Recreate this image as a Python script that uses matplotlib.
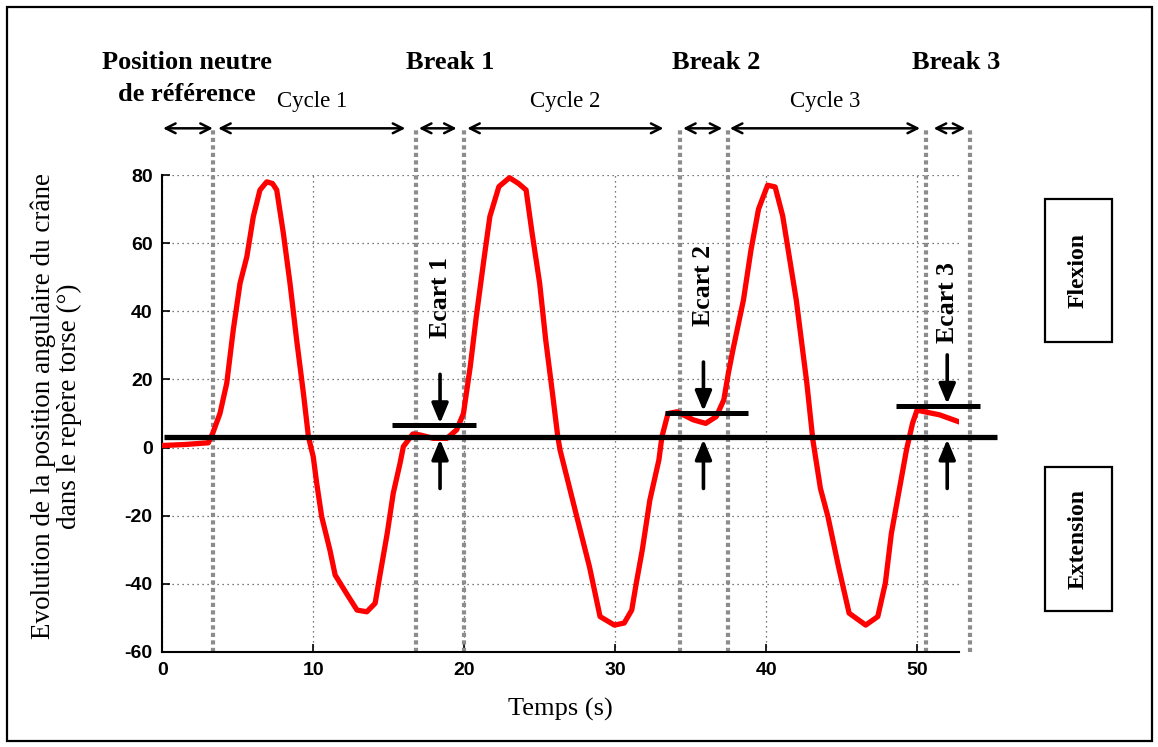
import numpy as np
import matplotlib.pyplot as plt
from matplotlib.patches import Rectangle

plt.rcParams['axes.unicode_minus'] = False

# Data
temps = [0, 1.5, 3.05, 3.34, 3.82, 4.27, 4.7, 5.15, 5.6, 6.03, 6.47, 6.92, 7.3, 7.58,
         8.02, 8.46, 8.9, 9.35, 9.68, 10.0, 10.23, 10.56, 11.1, 11.45, 12.2, 12.9,
         13.55, 14.1, 14.4, 14.9, 15.3, 15.75, 15.97, 16.6, 17.08, 17.96, 18.85, 19.5,
         19.95, 20.4, 20.8, 21.3, 21.7, 22.3, 23.0, 23.6, 24.1, 24.5, 25.0, 25.4, 25.85,
         26.2, 26.35, 27.46, 28.3, 29.0, 29.95, 30.6, 31.1, 31.4, 31.8, 32.3, 32.9, 33.1,
         33.5, 34.1, 35.2, 36.0, 36.7, 37.2, 37.5, 37.8, 38.5, 39.0, 39.5, 40.1, 40.6,
         41.1, 41.5, 42.0, 42.7, 43.1, 43.6, 44.1, 44.8, 45.5, 46.6, 47.4, 47.9, 48.3,
         48.9, 49.3, 49.7, 50.0, 50.5, 51.5, 52.75]
angle = [0.6, 0.9, 1.4, 4.2, 10, 18.9, 34.5, 48.2, 56, 67.8, 75.6, 78, 77.5, 75.6,
         62.9, 48.2, 31.6, 15.9, 3.2, -2.7, -10.5, -20.3, -30, -37.4, -42.8, -47.7,
         -48.2, -45.7, -37.9, -25.2, -13.4, -4.6, 0.3, 4.0, 3.7, 2.7, 2.7, 5.2,
         10, 23.7, 38.4, 55, 67.8, 76.6, 79.2, 77.5, 75.6, 62.9, 48.2, 31.6, 15.9,
         3.2, -0.7, -20.3, -35, -49.6, -52.1, -51.5, -47.7, -39.8, -30, -15.4, -3.6, 3.2,
         10, 10.5, 8.1, 7.1, 9.1, 14, 21.8, 28.6, 43.3, 58, 70, 77, 76.5,
         68, 57, 43.3, 18.9, 2.2, -12, -20.3, -35, -48.6, -52.1, -49.6, -39.8, -25.2,
         -10.5, -0.7, 7.1, 11, 10.5, 9.6, 7.6]

reference_level = 3.0
break_lines = [3.35, 16.8, 20.0, 34.3, 37.5, 50.6, 53.5]

phase_names = ['', 'Cycle 1', '', 'Cycle 2', '', 'Cycle 3', '']
phase_start = [0.05, 3.7, 17.0, 20.2, 34.5, 37.6, 51.1]
phase_end = [3.35, 16.1, 19.5, 33.2, 37.1, 50.2, 53.2]

header_names = ['Position neutre\nde référence', 'Break 1', 'Break 2', 'Break 3']
header_x = [1.65, 19.1, 36.7, 52.6]

ecart_names = ['Ecart 1', 'Ecart 2', 'Ecart 3']
ecart_x = [18.4, 35.85, 52.0]
ecart_level = [6.5, 10.1, 12.2]
ecart_bar_start = [15.2, 33.3, 48.6]
ecart_bar_end = [20.8, 38.8, 54.2]
ecart_text_y = [44, 47.5, 42.5]

W, H = 1158, 747
fig = plt.figure(figsize=(W / 100, H / 100), dpi=100)
ax = fig.add_axes([162.3 / W, 95 / H, 797 / W, 477 / H])

serif = 'Liberation Serif'

# grid
ax.set_xlim(0, 52.8)
ax.set_ylim(-60, 80)
ax.set_xticks([0, 10, 20, 30, 40, 50])
ax.set_yticks([-60, -40, -20, 0, 20, 40, 60, 80])
ax.grid(True, color='0.3', linestyle=(0, (1, 3)), linewidth=0.9)
ax.set_axisbelow(True)
for s in ['top', 'right']:
    ax.spines[s].set_visible(False)
for s in ['left', 'bottom']:
    ax.spines[s].set_linewidth(1.5)
ax.tick_params(direction='in', length=6, width=1.2, pad=7)
for lab in ax.get_xticklabels() + ax.get_yticklabels():
    lab.set_fontfamily('Liberation Sans')
    lab.set_fontweight('bold')
    lab.set_fontsize(14)

# break markers
for xb in break_lines:
    ax.plot([xb, xb], [-60, 93.2], color='#8c8c8c', lw=3.0,
            linestyle=(0, (1, 0.8)), dash_capstyle='butt', clip_on=False, zorder=2)

# curve
ax.plot(temps, angle, color='red', lw=3.8, solid_joinstyle='round', zorder=4)

# reference line
ax.plot([0.1, 55.3], [reference_level, reference_level], color='black', lw=3.8,
        clip_on=False, zorder=5, solid_capstyle='butt')

# ecart markers
for name, xe, lev, x0, x1, ty in zip(ecart_names, ecart_x, ecart_level,
                                      ecart_bar_start, ecart_bar_end, ecart_text_y):
    ax.plot([x0, x1], [lev, lev], color='black', lw=3.6, clip_on=False, zorder=5,
            solid_capstyle='butt')
    ax.annotate('', xy=(xe, lev + 0.6), xytext=(xe, lev + 15),
                arrowprops=dict(arrowstyle='-|>,head_width=0.5,head_length=1.2',
                                lw=2.6, color='black', shrinkA=0, shrinkB=0),
                annotation_clip=False, zorder=6)
    ax.annotate('', xy=(xe, reference_level - 0.6), xytext=(xe, -12),
                arrowprops=dict(arrowstyle='-|>,head_width=0.5,head_length=1.2',
                                lw=2.6, color='black', shrinkA=0, shrinkB=0),
                annotation_clip=False, zorder=6)
    ax.text(xe, ty, name, rotation=90, ha='center', va='center', family=serif,
            fontweight='bold', fontsize=18.5, zorder=6)

# phase arrows
for name, x0, x1 in zip(phase_names, phase_start, phase_end):
    ax.annotate('', xy=(x0, 93.7), xytext=(x1, 93.7),
                arrowprops=dict(arrowstyle='<->,head_width=0.35,head_length=0.7',
                                lw=1.8, color='black', shrinkA=0, shrinkB=0),
                annotation_clip=False)
    if name:
        ax.text((x0 + x1) / 2, 101.7, name, ha='center', va='center', family=serif,
                fontsize=16.5, clip_on=False)

for name, xh in zip(header_names, header_x):
    if '\n' in name:
        ax.text(xh, 108.2, name, ha='center', va='center', family=serif,
                fontweight='bold', fontsize=19, linespacing=1.5)
    else:
        ax.text(xh, 113.1, name, ha='center', va='center', family=serif,
                fontweight='bold', fontsize=19)

# axis labels
ax.set_xlabel('Temps (s)', family=serif, fontsize=19, labelpad=14)
fig.text(56 / W, 1 - 406 / H,
         'Evolution de la position angulaire du crâne\ndans le repère torse (°)',
         rotation=90, ha='center', va='center', family=serif, fontsize=19.5,
         multialignment='center', linespacing=1.05)

# Flexion / Extension boxes
for label, y0, y1 in [('Flexion', 199, 342), ('Extension', 467, 611)]:
    fig.patches.append(Rectangle((1045 / W, 1 - y1 / H), 67 / W, (y1 - y0) / H,
                                 transform=fig.transFigure, fill=False,
                                 edgecolor='black', lw=1.6))
    fig.text(1078.5 / W, 1 - (y0 + y1) / 2 / H, label, rotation=90, ha='center',
             va='center', family=serif, fontweight='bold', fontsize=17)

# outer frame
fig.patches.append(Rectangle((7 / W, 6 / H), 1145 / W, 734 / H,
                             transform=fig.transFigure, fill=False,
                             edgecolor='black', lw=1.6))

fig.savefig('out.png', dpi=100)
